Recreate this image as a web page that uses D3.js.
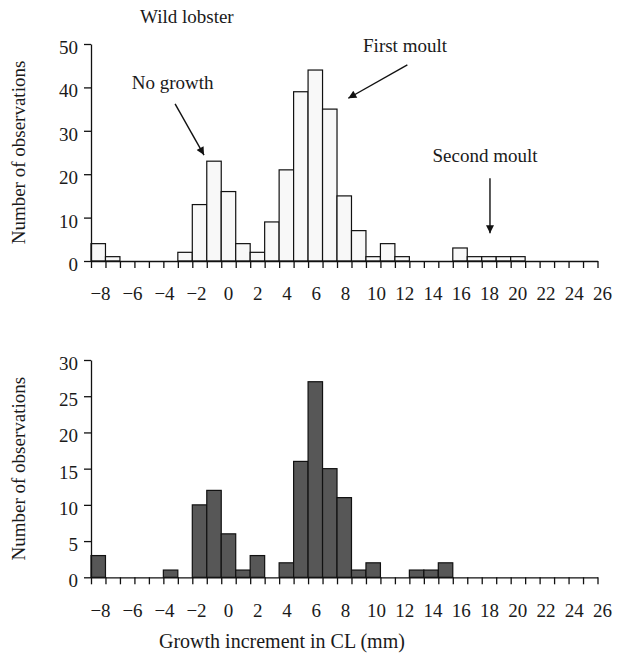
<!DOCTYPE html>
<html>
<head>
<meta charset="utf-8">
<script src="https://cdn.jsdelivr.net/npm/d3@7"></script>
<style>
  body { margin: 0; background: #fff; }
  svg { display: block; }
  text { font-family: "Liberation Serif", "Times New Roman", serif; fill: #1a1a1a; }
</style>
</head>
<body>
<div id="chart"></div>
<script>
// growth increment bins (mm), one bar per bin
var bins = d3.range(-8, 27);
// wild lobster counts per bin
var wildCounts = [4, 1, 0, 0, 0, 0, 2, 13, 23, 16, 4, 2, 9, 21, 39, 44, 35, 15, 7, 1, 4, 1, 0, 0, 0, 3, 1, 1, 1, 1, 0, 0, 0, 0, 0];
// second group (lower panel)
var secondCounts = [3, 0, 0, 0, 0, 1, 0, 10, 12, 6, 1, 3, 0, 2, 16, 27, 15, 11, 1, 2, 0, 0, 1, 1, 2, 0, 0, 0, 0, 0, 0, 0, 0, 0, 0];
var xTickLabels = d3.range(-8, 27, 2);
var topYTicks = [0, 10, 20, 30, 40, 50];
var bottomYTicks = [0, 5, 10, 15, 20, 25, 30];

// arrows in the upper panel, in data units
var notes = [
  { text: "No growth", tx: -2.86, ty: 39.6, x1: -2.69, y1: 36.2, x2: -0.69, y2: 24.4 },
  { text: "First moult", tx: 13.2, ty: 48.2, x1: 13.36, y1: 45.2, x2: 9.28, y2: 37.5 },
  { text: "Second moult", tx: 18.73, ty: 22.9, x1: 19.07, y1: 19.05, x2: 19.07, y2: 6.4 }
];

var W = 617, H = 657, fs = 19;

var svg = d3.select("#chart").append("svg")
    .attr("width", W)
    .attr("height", H);

svg.append("defs").append("marker")
    .attr("id", "arrow")
    .attr("viewBox", "0 0 10 10")
    .attr("refX", 10).attr("refY", 5)
    .attr("markerUnits", "userSpaceOnUse")
    .attr("markerWidth", 11).attr("markerHeight", 8)
    .attr("orient", "auto")
  .append("path")
    .attr("d", "M0,0L10,5L0,10Z")
    .attr("fill", "#111");

var x = d3.scaleLinear().domain([-8.5, 26.5]).range([91, 597.5]);
// tick labels in the original sit a little unevenly
var xLab = d3.scaleLinear().domain([-8, 0, 8, 10, 26]).range([100, 228, 345, 376, 602]);

function panel(counts, yTicks, top, bottom, fill) {
    var y = d3.scaleLinear().domain([0, d3.max(yTicks)]).range([bottom, top]);
    var g = svg.append("g");

    g.selectAll(".bar")
        .data(bins.map(function(b, i) { return { b: b, c: counts[i] }; }).filter(function(d) { return d.c > 0; }))
        .enter().append("rect")
        .attr("class", "bar")
        .attr("x", function(d) { return x(d.b - 0.5); })
        .attr("width", function(d) { return x(d.b + 0.5) - x(d.b - 0.5); })
        .attr("y", function(d) { return y(d.c); })
        .attr("height", function(d) { return y(0) - y(d.c); })
        .attr("fill", fill)
        .attr("stroke", "#111")
        .attr("stroke-width", 1.2);

    // x axis: ticks between bins
    var xa = g.append("g")
        .attr("transform", "translate(0," + y(0) + ")")
        .call(d3.axisBottom(x)
            .tickValues(d3.range(-8.5, 27, 1))
            .tickSize(7).tickSizeOuter(0)
            .tickFormat(""));
    xa.selectAll("path, line").attr("stroke", "#111").attr("stroke-width", 1.3);

    var xl = g.append("g")
        .attr("transform", "translate(0," + y(0) + ")")
        .call(d3.axisBottom(xLab).tickValues(xTickLabels).tickSize(0).tickPadding(26));
    xl.select(".domain").remove();
    xl.selectAll("text").attr("font-size", fs).attr("font-family", null).style("fill", "#1a1a1a");

    var ya = g.append("g")
        .attr("transform", "translate(" + x(-8.5) + ",0)")
        .call(d3.axisLeft(y).tickValues(yTicks).tickSize(7).tickSizeOuter(0).tickPadding(6));
    ya.selectAll("path, line").attr("stroke", "#111").attr("stroke-width", 1.3);
    ya.selectAll("text").attr("font-size", fs).attr("font-family", null).attr("dy", "0.5em").style("fill", "#1a1a1a");

    g.append("text")
        .attr("transform", "translate(25," + ((top + bottom) / 2) + ") rotate(-90)")
        .attr("text-anchor", "middle")
        .attr("font-size", fs)
        .text("Number of observations");

    return y;
}

var yTop = panel(wildCounts, topYTicks, 44, 261, "#f8f8f8");
panel(secondCounts, bottomYTicks, 360, 577.3, "#575757");

svg.append("text")
    .attr("x", 140).attr("y", 23)
    .attr("font-size", fs)
    .text("Wild lobster");

var ann = svg.append("g").selectAll("g").data(notes).enter().append("g");
ann.append("text")
    .attr("x", function(d) { return x(d.tx); })
    .attr("y", function(d) { return yTop(d.ty); })
    .attr("text-anchor", "middle")
    .attr("font-size", fs)
    .text(function(d) { return d.text; });
ann.append("line")
    .attr("x1", function(d) { return x(d.x1); })
    .attr("y1", function(d) { return yTop(d.y1); })
    .attr("x2", function(d) { return x(d.x2); })
    .attr("y2", function(d) { return yTop(d.y2); })
    .attr("stroke", "#111")
    .attr("stroke-width", 1.4)
    .attr("marker-end", "url(#arrow)");

svg.append("text")
    .attr("x", 159).attr("y", 648)
    .attr("font-size", 20)
    .text("Growth increment in CL (mm)");
</script>
</body>
</html>
